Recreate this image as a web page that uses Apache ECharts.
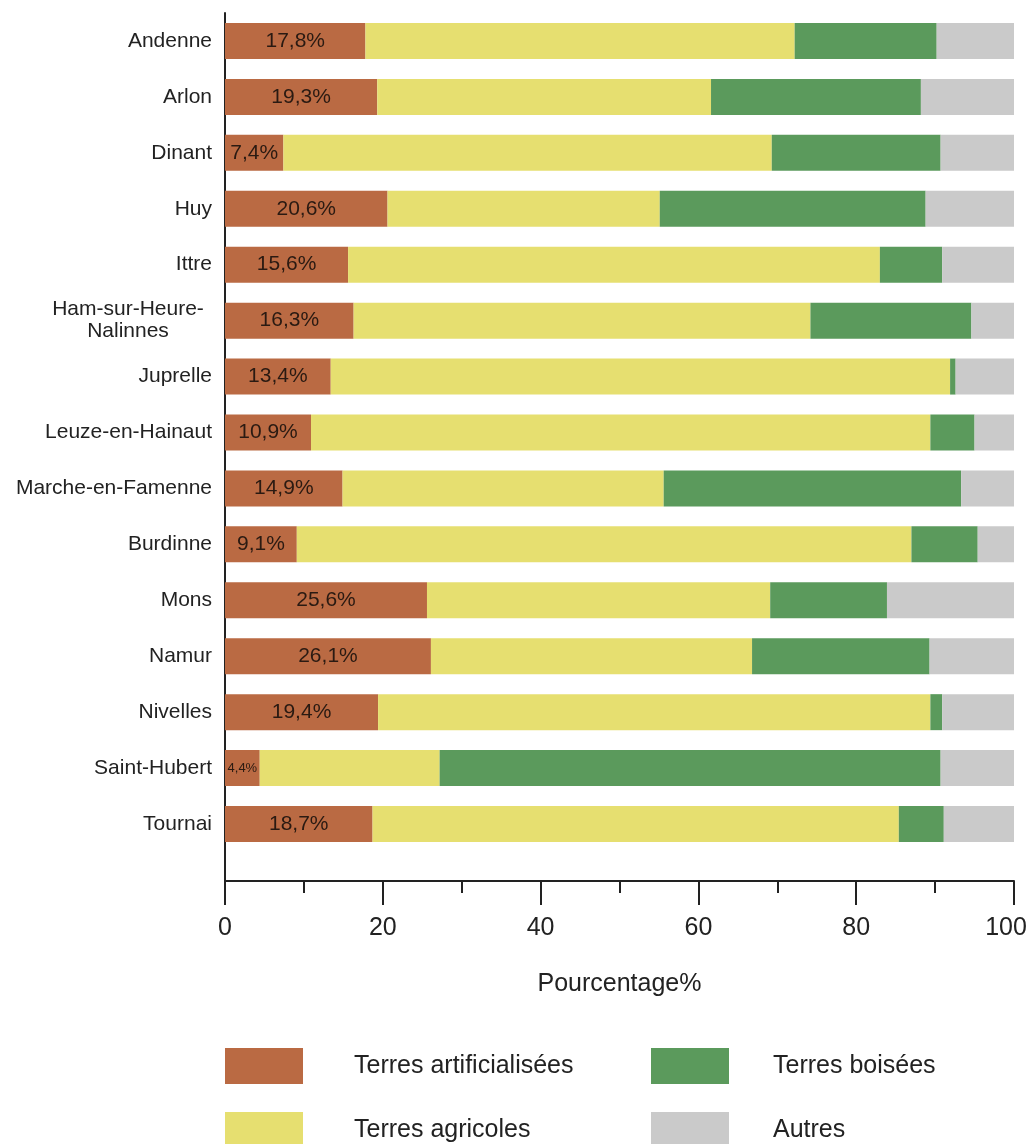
<!DOCTYPE html>
<html>
<head>
<meta charset="utf-8">
<script src="https://cdn.jsdelivr.net/npm/echarts@6/dist/echarts.min.js"></script>
<style>
html,body{margin:0;padding:0;background:#fff;}
#chart{width:1031px;height:1144px;}
</style>
</head>
<body>
<div id="chart"></div>
<script>
var communes = ['Andenne','Arlon','Dinant','Huy','Ittre','Ham-sur-Heure-\nNalinnes','Juprelle','Leuze-en-Hainaut','Marche-en-Famenne','Burdinne','Mons','Namur','Nivelles','Saint-Hubert','Tournai'];
var artificialisees = [17.8,19.3,7.4,20.6,15.6,16.3,13.4,10.9,14.9,9.1,25.6,26.1,19.4,4.4,18.7];
var agricoles = [54.4,42.3,61.9,34.5,67.4,57.9,78.5,78.5,40.7,77.9,43.5,40.7,70.0,22.8,66.7];
var boisees = [18.0,26.6,21.4,33.7,7.9,20.4,0.7,5.6,37.7,8.4,14.8,22.5,1.5,63.5,5.7];
var autres = [9.8,11.8,9.3,11.2,9.1,5.4,7.4,5.0,6.7,4.6,16.1,10.7,9.1,9.3,8.9];
var xTicks = [0,20,40,60,80,100];
var seriesNames = ['Terres artificialisées','Terres agricoles','Terres boisées','Autres'];
var colors = ['#BA6A43','#E6DF70','#5B9A5C','#CACACA'];

var FONT = '"Liberation Sans", Arial, sans-serif';
var chart = echarts.init(document.getElementById('chart'), null, {renderer:'canvas'});

function barSeries(idx, data, withLabel){
  var s = {
    name: seriesNames[idx], type: 'bar', stack: 'total', barWidth: 36,
    xAxisIndex: 0, yAxisIndex: 0,
    itemStyle: {color: colors[idx]},
    emphasis: {disabled: true},
    data: data
  };
  if (withLabel) {
    s.data = data.map(function(v){
      return {value: v, label: {fontSize: v < 5 ? 13 : 21}};
    });
    s.label = {
      show: true, position: 'inside', color: '#2a1a12', fontFamily: FONT,
      formatter: function(p){ return p.value.toFixed(1).replace('.', ',') + '%'; }
    };
  }
  return s;
}

var option = {
  animation: false,
  backgroundColor: '#ffffff',
  textStyle: {fontFamily: FONT},
  grid: [
    {left: 225, right: 17, top: 13, bottom: 292, containLabel: false, outerBoundsMode: 'none'},
    {left: 225, right: 17, top: 13, bottom: 263, containLabel: false, outerBoundsMode: 'none'}
  ],
  xAxis: [
    {
      type: 'value', gridIndex: 0, min: 0, max: 100, interval: 20, offset: 29,
      axisLine: {show: true, lineStyle: {color: '#222', width: 2}},
      axisTick: {show: true, length: 24, lineStyle: {color: '#222', width: 2}},
      minorTick: {show: true, splitNumber: 2, length: 12, lineStyle: {color: '#222', width: 2}},
      splitLine: {show: false},
      axisLabel: {fontSize: 25, color: '#222', margin: 35, fontFamily: FONT,
        customValues: xTicks,
        formatter: function(v){ return v === 100 ? '{m|' + v + '}' : String(v); },
        rich: {m: {fontSize: 25, color: '#222', fontFamily: FONT, padding: [0, 16, 0, 0]}}
      },
      name: 'Pourcentage%', nameLocation: 'middle', nameGap: 91,
      nameTextStyle: {fontSize: 25, color: '#222', fontFamily: FONT}
    },
    {type: 'value', gridIndex: 1, min: 0, max: 1, show: false}
  ],
  yAxis: [
    {
      type: 'category', gridIndex: 0, data: communes, inverse: true,
      axisLine: {show: false}, axisTick: {show: false},
      axisLabel: {
        fontSize: 21, color: '#222', margin: 13, fontFamily: FONT, lineHeight: 22,
        formatter: function(v){
          if (v.indexOf('\n') >= 0) {
            return v.split('\n').map(function(s){ return '{c|' + s + '}'; }).join('\n');
          }
          return v;
        },
        rich: {c: {width: 168, align: 'center', fontSize: 21, color: '#222', lineHeight: 22, fontFamily: FONT}}
      }
    },
    {
      type: 'value', gridIndex: 1, min: 0, max: 1,
      axisLine: {show: true, lineStyle: {color: '#222', width: 2}},
      axisTick: {show: false}, axisLabel: {show: false}, splitLine: {show: false}
    }
  ],
  legend: [
    {
      data: [seriesNames[0], seriesNames[1]], orient: 'vertical', left: 225, top: 1048,
      width: 400, height: 200, padding: 0,
      itemWidth: 78, itemHeight: 36, itemGap: 28, icon: 'rect', selectedMode: false,
      textStyle: {fontSize: 25, color: '#222', fontFamily: FONT, padding: [0,0,0,46]}
    },
    {
      data: [seriesNames[2], seriesNames[3]], orient: 'vertical', left: 651, top: 1048,
      width: 360, height: 200, padding: 0,
      itemWidth: 78, itemHeight: 36, itemGap: 28, icon: 'rect', selectedMode: false,
      textStyle: {fontSize: 25, color: '#222', fontFamily: FONT, padding: [0,0,0,39]}
    }
  ],
  series: [
    barSeries(0, artificialisees, true),
    barSeries(1, agricoles, false),
    barSeries(2, boisees, false),
    barSeries(3, autres, false)
  ]
};
chart.setOption(option);
</script>
</body>
</html>
